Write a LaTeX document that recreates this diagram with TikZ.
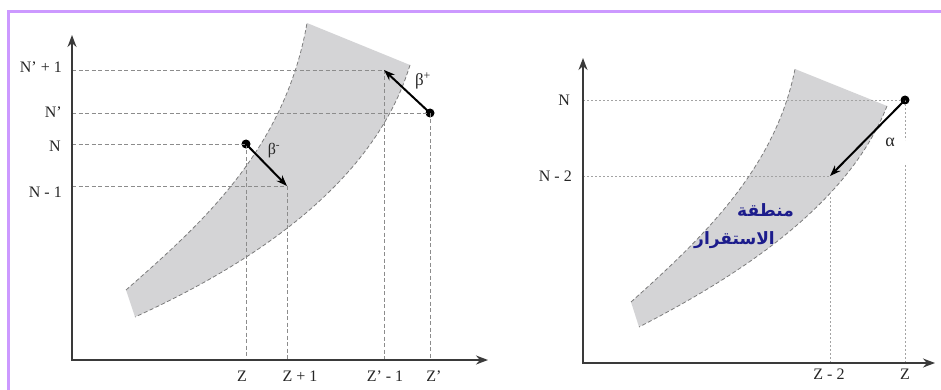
\documentclass[tikz,border=0pt]{standalone}
\usepackage{fontspec}
\setmainfont{Liberation Serif}
\newfontfamily\arabicfont[Script=Arabic]{DejaVu Sans}
\TeXXeTstate=1
\usetikzlibrary{arrows.meta}
\definecolor{framecol}{HTML}{CC99FF}
\definecolor{bandcol}{HTML}{D4D4D6}
\definecolor{edgecol}{HTML}{7C7C7C}
\definecolor{guidecol}{HTML}{8C8C8C}
\definecolor{axiscol}{HTML}{3A3A3A}
\definecolor{arabcol}{HTML}{1C1C8C}
\begin{document}
\begin{tikzpicture}[x=1pt,y=-1pt,
  lab/.style={font=\fontsize{16}{18}\selectfont, inner sep=0pt, text=black!85},
  axisline/.style={draw=axiscol, line width=1.6pt, -{Stealth[length=12pt,width=9pt]}},
  guideL/.style={draw=guidecol, line width=0.8pt, dash pattern=on 4pt off 2.5pt},
  guideR/.style={draw=guidecol!80, line width=0.9pt, dash pattern=on 2pt off 2pt},
  bandfill/.style={fill=bandcol},
  bandedge/.style={draw=edgecol, line width=0.8pt, dash pattern=on 4pt off 2.5pt},
  decay/.style={draw=black, line width=2pt, -{Stealth[length=11pt,width=8pt]}},
  dotnode/.style={circle, fill=black, inner sep=0pt, minimum size=9pt},
  arabtext/.style={inner sep=0pt, anchor=east, text=arabcol, font=\arabicfont\bfseries\fontsize{17}{19}\selectfont}]
\useasboundingbox (0,0) rectangle (941,390);
% frame
\draw[framecol, line width=3pt] (8.5,400) -- (8.5,11.5) -- (950,11.5);

% ---------- left panel ----------
\path[bandfill] (126,290) .. controls (200,225) and (285,150) .. (307,23)
  -- (410,65) .. controls (375,180) and (260,260) .. (135,317) -- cycle;

\coordinate (O1) at (72,360);
\coordinate (Yt1) at (72,35);
\coordinate (Xt1) at (488,360);
\coordinate (Nq1) at (72,70);
\coordinate (Nq) at (72,113);
\coordinate (Nn) at (72,144);
\coordinate (Nm1) at (72,186);
\coordinate (xZ) at (246,360);
\coordinate (xZp1) at (287,360);
\coordinate (xZqm1) at (384,360);
\coordinate (xZq) at (430,360);
\coordinate (bminus) at (287,186);
\coordinate (bplus) at (384,70);

\node[dotnode] (p1) at (246,144) {};
\node[dotnode] (p2) at (430,113) {};

\draw[guideL] (Nq1) -- (bplus);
\draw[guideL] (Nq) -- (p2.center);
\draw[guideL] (Nn) -- (p1.center);
\draw[guideL] (Nm1) -- (bminus);
\draw[guideL] (p1.center) -- (xZ);
\draw[guideL] (bminus) -- (xZp1);
\draw[guideL] (bplus) -- (xZqm1);
\draw[guideL] (p2.center) -- (xZq);

\draw[bandedge] (126,290) .. controls (200,225) and (285,150) .. (307,23);
\draw[bandedge] (410,65) .. controls (375,180) and (260,260) .. (135,317);

\draw[axisline] (O1) -- (Yt1);
\draw[axisline] ([xshift=-0.8pt]O1) -- (Xt1);

\draw[decay] (p1.center) -- (bminus);
\draw[decay] (p2.center) -- (bplus);

\node[lab, anchor=east] (lNq1) at (62,67) {N' + 1};
\node[lab, anchor=east] (lNq) at (62,112) {N'};
\node[lab, anchor=east] (lN) at (61,146) {N};
\node[lab, anchor=east] (lNm1) at (62,192) {N - 1};
\node[lab] (lZ) at (242,376) {Z};
\node[lab] (lZp1) at (300,376) {Z + 1};
\node[lab] (lZqm1) at (385,376) {Z' - 1};
\node[lab] (lZq) at (434,376) {Z'};
\node[lab, font=\fontsize{16}{18}\selectfont] (lbm) at (274,151) {β\textsuperscript{-}};
\node[lab, font=\fontsize{17}{19}\selectfont] (lbp) at (423,81) {β\textsuperscript{+}};

% ---------- right panel ----------
\path[bandfill] (631,302) .. controls (700,240) and (775,170) .. (795,69)
  -- (887,106) .. controls (850,200) and (750,270) .. (639,327) -- cycle;

\coordinate (O2) at (583,363);
\coordinate (Yt2) at (583,58);
\coordinate (Xt2) at (935,363);
\coordinate (NR) at (583,100);
\coordinate (NRm2) at (583,176);
\coordinate (atip) at (830,176);
\coordinate (zm2top) at (830,197);
\coordinate (xZm2) at (830,363);
\coordinate (zgapA) at (905,140);
\coordinate (zgapB) at (905,165);
\coordinate (xZR) at (905,363);

\node[dotnode] (p3) at (905,100) {};

\draw[guideR] (NR) -- (p3.center);
\draw[guideR] (NRm2) -- (atip);
\draw[guideR] (zm2top) -- (xZm2);
\draw[guideR] (p3.center) -- (zgapA);
\draw[guideR] (zgapB) -- (xZR);

\draw[bandedge] (631,302) .. controls (700,240) and (775,170) .. (795,69);
\draw[bandedge] (887,106) .. controls (850,200) and (750,270) .. (639,327);

\draw[axisline] (O2) -- (Yt2);
\draw[axisline] ([xshift=-0.8pt]O2) -- (Xt2);

\draw[decay] (p3.center) -- (atip);

\node[lab, anchor=east] (lNR) at (570,100) {N};
\node[lab, anchor=east] (lNRm2) at (572,176) {N - 2};
\node[lab] (lZm2) at (829,374) {Z - 2};
\node[lab] (lZR) at (905,374) {Z};
\node[lab, font=\fontsize{18}{20}\selectfont] (lal) at (890,142) {α};

\begin{scope}
\clip (691,0) rectangle (941,390);
\node[arabtext] (ar1) at (794,210) {\beginR منطقة\endR};
\node[arabtext] (ar2) at (775,240) {\beginR الاستقرار\endR};
\end{scope}
\end{tikzpicture}
\end{document}
